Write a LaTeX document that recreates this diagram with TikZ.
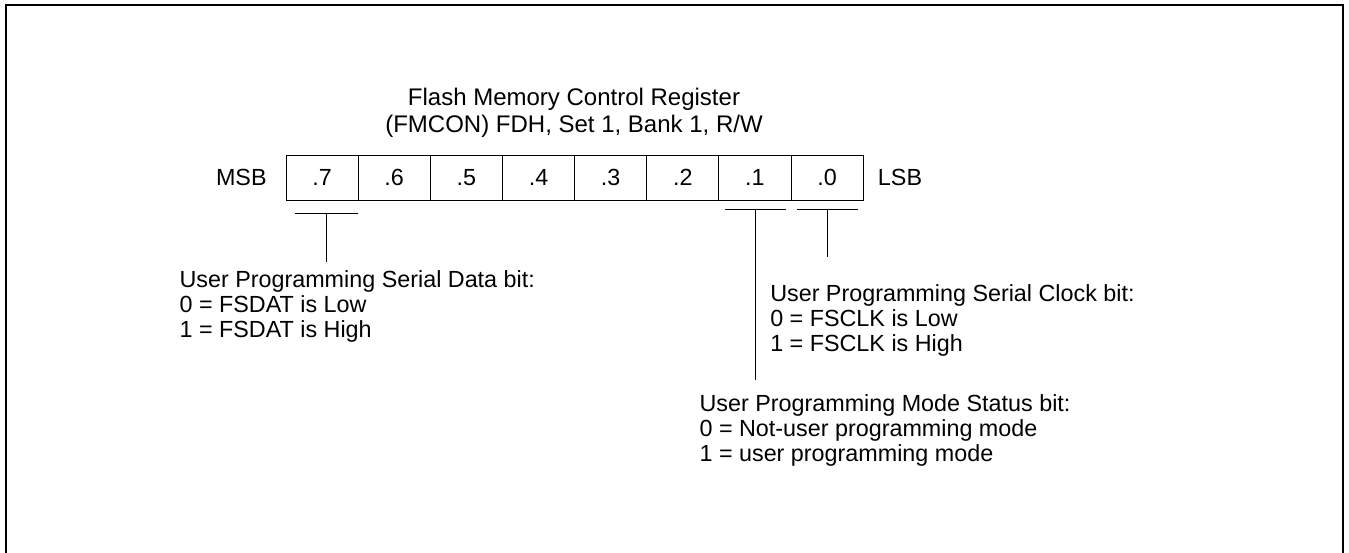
\documentclass[tikz,border=0pt]{standalone}
\usepackage{fontspec}
\setmainfont{Liberation Sans}
\usetikzlibrary{positioning}

\tikzset{
  bitcell/.style={draw, line width=0.75pt, minimum width=54.1pt, minimum height=33.75pt, inner sep=0pt, font=\fontsize{17.5pt}{19pt}\selectfont},
  txt/.style={inner sep=0pt, align=left, anchor=north west, font=\fontsize{17.5pt}{19pt}\selectfont},
  lead/.style={line width=0.75pt}
}

\begin{document}
\begin{tikzpicture}[x=0.75pt, y=-0.75pt]
\useasboundingbox (0,0) rectangle (1349,553);
\draw[line width=1.6pt] (6,553) -- (6,5) -- (1343,5) -- (1343,553);

\node[inner sep=0pt, align=center, anchor=north, font=\fontsize{18pt}{20.25pt}\selectfont] (title) at (574,88)
  {Flash Memory Control Register\\(FMCON) FDH, Set 1, Bank 1, R/W};

\foreach \i in {7,...,0}
  \node[bitcell] (bit\i) at ({286+(7-\i)*72.15+36.07},177.5) {.\i};

\node[inner sep=0pt, font=\fontsize{17.5pt}{19pt}\selectfont, left=14pt of bit7] (msb) {MSB};
\node[inner sep=0pt, font=\fontsize{17.5pt}{19pt}\selectfont, right=10.5pt of bit0] (lsb) {LSB};

\node[txt] (datatxt) at (179.3,270) {User Programming Serial Data bit:\\0 = FSDAT is Low\\1 = FSDAT is High};
\node[txt] (clktxt) at (770,284) {User Programming Serial Clock bit:\\0 = FSCLK is Low\\1 = FSCLK is High};
\node[txt] (modetxt) at (699.3,394) {User Programming Mode Status bit:\\0 = Not-user programming mode\\1 = user programming mode};

% bit 7
\coordinate (brk7a) at (295,213);
\coordinate (brk7b) at (357.7,213);
\coordinate (stem7) at (326.7,213);
\coordinate (stem7end) at (326.7,262);
\draw[lead] (brk7a) -- (brk7b);
\draw[lead] (stem7) -- (stem7end);

% bit 1
\coordinate (brk1a) at (725,209);
\coordinate (brk1b) at (785.7,209);
\coordinate (stem1) at (755,209);
\coordinate (stem1end) at (755,380);
\draw[lead] (brk1a) -- (brk1b);
\draw[lead] (stem1) -- (stem1end);

% bit 0
\coordinate (brk0a) at (796.7,209);
\coordinate (brk0b) at (858.3,209);
\coordinate (stem0) at (827.7,209);
\coordinate (stem0end) at (827.7,257);
\draw[lead] (brk0a) -- (brk0b);
\draw[lead] (stem0) -- (stem0end);
\end{tikzpicture}
\end{document}
